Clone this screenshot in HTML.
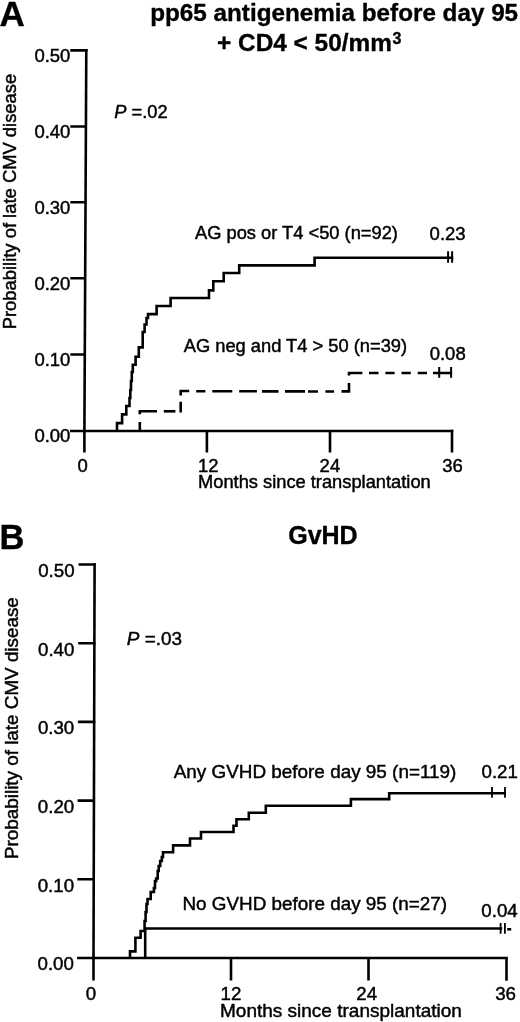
<!DOCTYPE html>
<html><head><meta charset="utf-8">
<style>
html,body{margin:0;padding:0;background:#fff;}
body{width:520px;height:1022px;overflow:hidden;}
svg{display:block;filter:grayscale(1);}
text{font-family:"Liberation Sans",sans-serif;fill:#000;stroke:#000;stroke-width:0.45px;}
.b{font-weight:bold;stroke-width:0.35px;}
</style></head>
<body>
<svg width="520" height="1022" viewBox="0 0 520 1022">
<rect width="520" height="1022" fill="#fff"/>
<!-- ================= PANEL A ================= -->
<text class="b" x="-0.5" y="26.3" font-size="35">A</text>
<text class="b" x="150.2" y="20.7" font-size="24.25">pp65 antigenemia before day 95</text>
<text class="b" x="217" y="50.6" font-size="24.4">+ CD4 &lt; 50/mm</text>
<text class="b" x="392.5" y="43.5" font-size="16">3</text>

<g fill="none" stroke="#000" stroke-width="2.6" stroke-linecap="butt">
  <!-- y axis -->
  <path d="M86.3,49 L84.4,432"/>
  <!-- y ticks -->
  <path d="M70.3,50.4 H87.6 M70.3,126.5 H87 M70.3,202.2 H86.5 M70.3,278.2 H86 M70.3,354.5 H85.5"/>
  <!-- x axis -->
  <path d="M70,431 H453.3"/>
  <!-- x ticks -->
  <path d="M84.4,430 V452.5 M206.9,430 V452.5 M330,430 V452.5 M452,429.7 V452.5"/>
</g>

<g font-size="18.5">
<text x="34.4" y="61.7">0.50</text>
<text x="34.4" y="137.9">0.40</text>
<text x="34.4" y="213.8">0.30</text>
<text x="34.4" y="289.8">0.20</text>
<text x="34.4" y="366">0.10</text>
<text x="34.4" y="442.2">0.00</text>
<text x="77.5" y="472">0</text>
<text x="198" y="472">12</text>
<text x="319.6" y="472">24</text>
<text x="442.2" y="472">36</text>
</g>
<text x="198" y="488" font-size="18.3">Months since transplantation</text>
<text font-size="18.4" transform="translate(16,329.3) rotate(-90)">Probability of late CMV disease</text>
<text x="114.3" y="118" font-size="18.3"><tspan font-style="italic">P</tspan> =.02</text>
<text x="195" y="238.7" font-size="18.3">AG pos or T4 &lt;50 (n=92)</text>
<text x="429.6" y="240" font-size="18.5">0.23</text>
<text x="183.8" y="352" font-size="18.3">AG neg and T4 &gt; 50 (n=39)</text>
<text x="429.7" y="359.5" font-size="18.5">0.08</text>

<!-- AG pos curve -->
<g fill="none" stroke="#000" stroke-width="2.6" stroke-linejoin="miter">
<path d="M117,431 V423.1 H122.1 V414.4 H126.3 V406 H129.5 V398 H130.3 V390 H131 V381 H131.8 V372 H132.8 V364.7 H135.6 V356.7 H138.8 V347.4 H142.7 V332 H144.6 V324.5 H146.5 V318 H148 V314.1 H156.6 V306 H170.6 V298 H209 V290.4 H213.3 V281.2 H223.7 V273 H239.2 V265.4 H314.6 V257.8 H453.3"/>
<path stroke-width="2" d="M448.1,251.3 V262.7 M452.1,251.3 V262.7"/>
</g>
<!-- AG neg dashed curve -->
<g fill="none" stroke="#000" stroke-width="2.6">
<path d="M139.8,431 V422"/>
<path d="M139.8,414.3 V411.3 H157"/>
<path d="M163.8,411.3 H175.4"/>
<path d="M179.4,411.3 H180.7 V401.7"/>
<path d="M180.7,395.4 V391 H189.2"/>
<path d="M196.2,391.2 H205.4 M212.3,391.3 H232.3 M239.2,391.3 H256.9 M262,391.4 H278.5 M285,391.4 H305 M308,391.5 H318 M325.4,391.5 H334.1"/>
<path d="M341.5,391.4 H349 V382.9"/>
<path d="M349,375.5 V373 H362.4"/>
<path d="M369,373 H378.5 M385.4,373 H394.6 M401.5,373 H410.8 M417.7,373 H427 M433,373 H451.5"/>
<path stroke-width="2" d="M439.2,367 V377.7 M451.1,367 V377.7"/>
</g>

<!-- ================= PANEL B ================= -->
<text class="b" x="-0.6" y="549.2" font-size="34.5">B</text>
<text class="b" x="288.2" y="543.5" font-size="25">GvHD</text>

<g fill="none" stroke="#000" stroke-width="2.6">
  <path d="M94.6,563.2 L93.5,959.5"/>
  <path d="M78.5,564.5 H95.9 M78.2,643.2 H95.5 M77.9,721.9 H95.3 M77.6,800.6 H95 M77.3,879.3 H94.8"/>
  <path d="M77.1,958 H507.8"/>
  <path d="M93.5,957 V980.5 M231,957 V980.5 M368.5,957 V980.5 M506.5,957 V980.8"/>
</g>
<g font-size="18.7">
<text x="38.2" y="577">0.50</text>
<text x="38" y="655.7">0.40</text>
<text x="37.9" y="734.4">0.30</text>
<text x="37.8" y="813.1">0.20</text>
<text x="37.7" y="891.8">0.10</text>
<text x="37.5" y="970.2">0.00</text>
<text x="85.7" y="999.6">0</text>
<text x="220.5" y="999.6">12</text>
<text x="356.3" y="999.6">24</text>
<text x="495.2" y="999.8">36</text>
</g>
<text x="220" y="1016.5" font-size="19">Months since transplantation</text>
<text font-size="18.85" transform="translate(17.6,859) rotate(-90)">Probability of late CMV disease</text>
<text x="126.8" y="645" font-size="18.9"><tspan font-style="italic">P</tspan> =.03</text>
<text x="173.7" y="777.8" font-size="18.9">Any GVHD before day 95 (n=119)</text>
<text x="481.5" y="778" font-size="18.7">0.21</text>
<text x="182.5" y="910.2" font-size="18.85">No GVHD before day 95 (n=27)</text>
<text x="481.3" y="916.5" font-size="18.7">0.04</text>

<g fill="none" stroke="#000" stroke-width="2.6">
<!-- Any GVHD -->
<path d="M130,958 V951.4 H135.4 V937.7 H140.6 V931 H144.6 V921 H145.6 V912 H146.5 V904 H147.5 V899 H150.7 V892 H153.9 V888 H155 V881 H156.2 V878.5 H157.7 V871 H158.7 V866 H160.2 V861 H161.8 V857 H163 V852.3 H173.1 V845.4 H190 V838.5 H201 V832 H233.5 V825.8 H236.5 V819.3 H248.8 V812.7 H265.8 V805.8 H350.9 V799.1 H389.2 V793.2 H505.8"/>
<path stroke-width="1.8" d="M492,787 V797.7 M505,787 V797.7"/>
<!-- No GVHD -->
<path d="M145.2,958 V928.5 H502.2"/>
<path stroke-width="1.8" d="M500.6,923 V933.8 M504.9,923 V933.8"/><path d="M507.2,929.3 H511.2"/>
</g>
</svg>
</body></html>
